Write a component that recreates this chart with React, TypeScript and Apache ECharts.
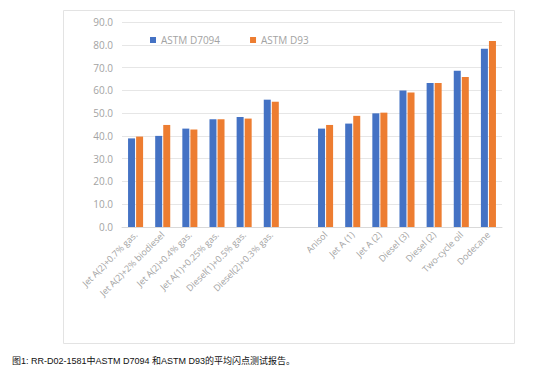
import React, { useEffect, useRef } from "react";
import * as echarts from "echarts";

const categories = [
  "Jet A(2)+0.7% gas.",
  "Jet A(2)+2% biodiesel",
  "Jet A(2)+0.4% gas.",
  "Jet A(1)+0.25% gas.",
  "Diesel(1)+0.5% gas.",
  "Diesel(2)+0.3% gas.",
  "",
  "Anisol",
  "Jet A (1)",
  "Jet A (2)",
  "Diesel (3)",
  "Diesel (2)",
  "Two-cycle oil",
  "Dodecane",
];
const d7094 = [38.9, 40.0, 43.2, 47.3, 48.3, 55.9, null, 43.2, 45.4, 49.9, 59.9, 63.2, 68.6, 78.3];
const d93 = [39.7, 44.8, 42.8, 47.3, 47.6, 55.0, null, 44.8, 48.8, 50.2, 59.0, 63.2, 65.8, 81.7];
const caption = "图1: RR-D02-1581中ASTM D7094 和ASTM D93的平均闪点测试报告。";

export default function App() {
  const ref = useRef<HTMLDivElement>(null);
  useEffect(() => {
    if (!ref.current) return;
    const chart = echarts.init(ref.current, undefined, { renderer: "svg" });
    const font = "'Open Sans', sans-serif";
    const grey = "#a3a3a3";
    chart.setOption({
      animation: false,
      backgroundColor: "#fff",
      textStyle: { fontFamily: font },
      graphic: [
        {
          type: "rect",
          shape: { x: 63.5, y: 10.5, width: 451, height: 333 },
          style: { fill: "none", stroke: "#e3e3e3", lineWidth: 1 },
          silent: true,
        },
        {
          type: "text",
          x: 12,
          y: 356,
          style: {
            text: caption,
            fill: "#111",
            font: "9px 'Liberation Sans', 'Noto Sans CJK SC', sans-serif",
          },
        },
      ],
      legend: {
        top: 30,
        left: 145,
        itemWidth: 6,
        itemHeight: 6,
        itemGap: 30,
        icon: "rect",
        textStyle: { color: grey, fontSize: 10, fontFamily: font },
        data: ["ASTM D7094", "ASTM D93"],
      },
      grid: { left: 122, right: 52, top: 22, bottom: 150, containLabel: false },
      xAxis: {
        type: "category",
        data: categories,
        axisLine: { lineStyle: { color: "#d9d9d9" } },
        axisTick: { show: false },
        axisLabel: {
          rotate: 45,
          interval: 0,
          color: grey,
          fontSize: 9,
          margin: 6,
          fontFamily: font,
        },
      },
      yAxis: {
        type: "value",
        min: 0,
        max: 90,
        interval: 10,
        axisLine: { show: false },
        axisTick: { show: false },
        splitLine: { lineStyle: { color: "#e6e6e6" } },
        axisLabel: {
          color: grey,
          fontSize: 10,
          margin: 9,
          fontFamily: font,
          formatter: (v: number) => v.toFixed(1),
        },
      },
      series: [
        {
          name: "ASTM D7094",
          type: "bar",
          data: d7094,
          barWidth: 7,
          barGap: "15%",
          itemStyle: { color: "#4472C4" },
        },
        {
          name: "ASTM D93",
          type: "bar",
          data: d93,
          barWidth: 7,
          itemStyle: { color: "#ED7D31" },
        },
      ],
    });
    return () => chart.dispose();
  }, []);
  return (
    <div
      ref={ref}
      style={{ position: "absolute", left: 0, top: 0, width: 554, height: 377 }}
    />
  );
}
